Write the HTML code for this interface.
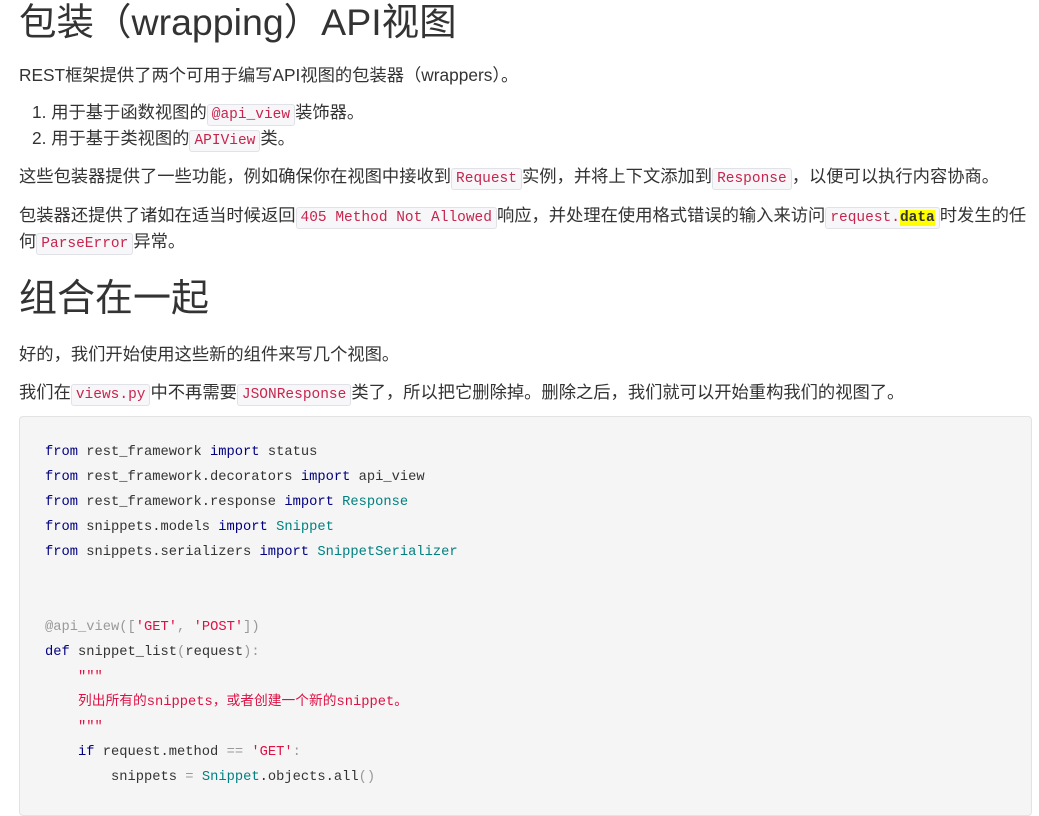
<!DOCTYPE html>
<html><head><meta charset="utf-8"><style>
body{margin:0;background:#fff;width:1039px;height:796px;overflow:hidden;font-family:"Liberation Sans","Noto Sans CJK SC",sans-serif;color:#333;font-size:17.3px;}
.w{position:absolute;left:19px;top:0;width:1013px;}
.a{position:absolute;left:0;white-space:nowrap;}
h1,h2{font-weight:400;margin:0;}
code{font-family:"Liberation Mono","Noto Sans CJK SC",monospace;font-size:14.5px;color:#c7254e;background:#f7f7f9;border:1px solid #e1e1e8;border-radius:3px;padding:2px 4px;}
mark{background:#ff0;color:#333;font-weight:bold;}
.pre{position:absolute;left:0;top:416px;width:1013px;height:400px;background:#f5f5f5;border:1px solid #e3e3e3;border-radius:4px;box-sizing:border-box;font-family:"Liberation Mono","Noto Sans CJK SC",monospace;font-size:13.75px;color:#333;}
.l{position:absolute;left:25px;height:25px;line-height:25px;white-space:pre;}
.k{color:#000080}.t{color:#008080}.s{color:#d14}.g{color:#999}
</style></head><body><div class="w">
<h1 class="a" style="top:-1px;font-size:37.5px;line-height:46px;">包装（wrapping）API视图</h1>
<div class="a" style="top:61px;">REST框架提供了两个可用于编写API视图的包装器（wrappers）。</div>
<div class="a" style="top:98px;left:13px;">1. 用于基于函数视图的<code>@api_view</code>装饰器。</div>
<div class="a" style="top:124px;left:13px;">2. 用于基于类视图的<code>APIView</code>类。</div>
<div class="a" style="top:162px;">这些包装器提供了一些功能，例如确保你在视图中接收到<code>Request</code>实例，并将上下文添加到<code>Response</code>，以便可以执行内容协商。</div>
<div class="a" style="top:201px;">包装器还提供了诸如在适当时候返回<code>405 Method Not Allowed</code>响应，并处理在使用格式错误的输入来访问<code>request.<mark>data</mark></code>时发生的任</div>
<div class="a" style="top:227px;">何<code>ParseError</code>异常。</div>
<h2 class="a" style="top:276px;font-size:38px;line-height:46px;">组合在一起</h2>
<div class="a" style="top:340px;">好的，我们开始使用这些新的组件来写几个视图。</div>
<div class="a" style="top:378px;">我们在<code>views.py</code>中不再需要<code>JSONResponse</code>类了，所以把它删除掉。删除之后，我们就可以开始重构我们的视图了。</div>
<div class="pre">
<div class="l" style="top:23px"><span class="k">from</span> rest_framework <span class="k">import</span> status</div>
<div class="l" style="top:48px"><span class="k">from</span> rest_framework.decorators <span class="k">import</span> api_view</div>
<div class="l" style="top:73px"><span class="k">from</span> rest_framework.response <span class="k">import</span> <span class="t">Response</span></div>
<div class="l" style="top:98px"><span class="k">from</span> snippets.models <span class="k">import</span> <span class="t">Snippet</span></div>
<div class="l" style="top:123px"><span class="k">from</span> snippets.serializers <span class="k">import</span> <span class="t">SnippetSerializer</span></div>
<div class="l" style="top:198px"><span class="g">@api_view([</span><span class="s">'GET'</span><span class="g">,</span> <span class="s">'POST'</span><span class="g">])</span></div>
<div class="l" style="top:223px"><span class="k">def</span> snippet_list<span class="g">(</span>request<span class="g">):</span></div>
<div class="l" style="top:248px">    <span class="s">"""</span></div>
<div class="l" style="top:273px">    <span class="s">列出所有的snippets，或者创建一个新的snippet。</span></div>
<div class="l" style="top:298px">    <span class="s">"""</span></div>
<div class="l" style="top:323px">    <span class="k">if</span> request.method <span class="g">==</span> <span class="s">'GET'</span><span class="g">:</span></div>
<div class="l" style="top:348px">        snippets <span class="g">=</span> <span class="t">Snippet</span>.objects.all<span class="g">()</span></div>
</div>
</div></body></html>
